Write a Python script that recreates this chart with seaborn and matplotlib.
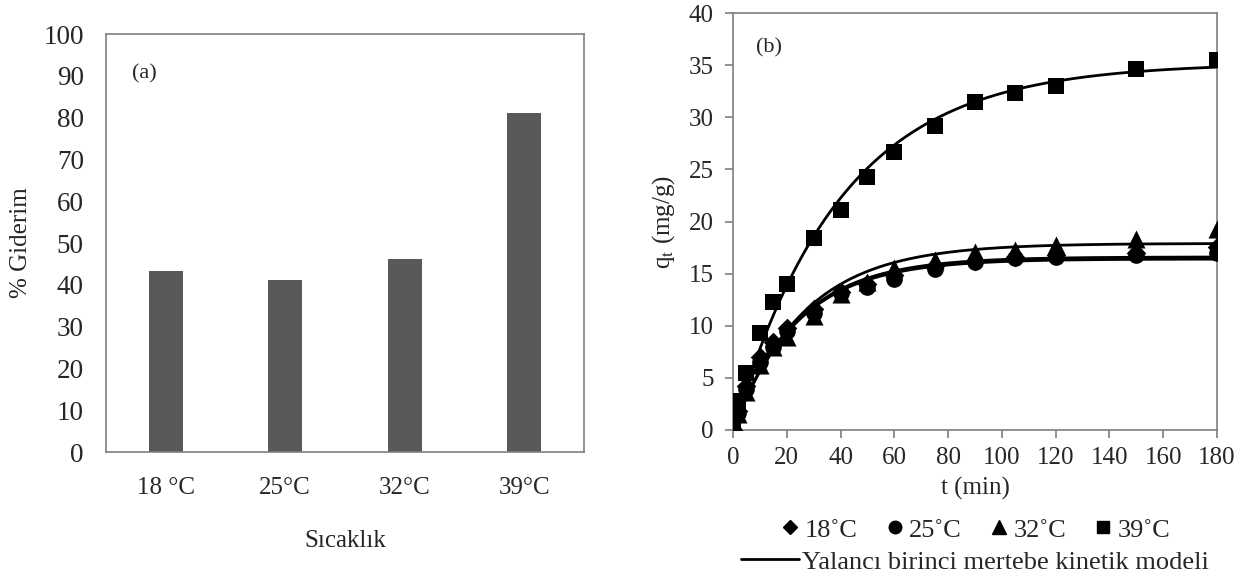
import numpy as np
import pandas as pd
import matplotlib
matplotlib.use("Agg")
import matplotlib.pyplot as plt
from matplotlib.lines import Line2D
import seaborn as sns

# ---------------- data ----------------
temps_a = ["18 °C", "25°C", "32°C", "39°C"]
removal = [43.2, 41.2, 46.1, 81.0]

t_min = [0, 2, 5, 10, 15, 20, 30, 40, 50, 60, 75, 90, 105, 120, 150, 180]
q18 = [0, 1.8, 4.2, 7.0, 8.4, 9.8, 11.6, 13.2, 14.0, 14.9, 15.7, 16.2, 16.6, 16.8, 17.0, 17.6]
q25 = [0, 1.6, 3.9, 6.5, 8.0, 9.5, 11.2, 13.1, 13.7, 14.5, 15.4, 16.1, 16.5, 16.6, 16.8, 17.0]
q32 = [0, 1.5, 3.6, 6.2, 8.0, 8.9, 10.9, 13.0, 14.2, 15.5, 16.3, 17.1, 17.3, 17.7, 18.3, 19.3]
q39 = [0, 2.8, 5.5, 9.3, 12.3, 14.0, 18.4, 21.1, 24.3, 26.7, 29.2, 31.5, 32.3, 33.0, 34.6, 35.5]

series_labels = ["18˚C", "25˚C", "32˚C", "39˚C"]
# pseudo-first-order model parameters (qe, k1)
model_qe = [16.6, 16.4, 17.9, 35.2]
model_k = [0.042, 0.042, 0.038, 0.025]
model_label = "Yalancı birinci mertebe kinetik modeli"

# ---------------- style ----------------
sns.set_theme(style="white")
plt.rcParams["font.family"] = ["Liberation Serif", "DejaVu Serif"]
plt.rcParams["mathtext.fontset"] = "stix"

fig = plt.figure(figsize=(12.5, 5.81), dpi=100)
axA = fig.add_axes([0.0848, 0.222, 0.3824, 0.7194])
axB = fig.add_axes([0.5864, 0.2599, 0.3872, 0.7177])

frame_col = "#7f7f7f"
FS = 18

# ---------------- panel (a) ----------------
dfa = pd.DataFrame({"temp": temps_a, "removal": removal})
sns.barplot(data=dfa, x="temp", y="removal", color="#595959", saturation=1,
            width=0.285, ax=axA, edgecolor="none")
axA.set_ylim(0, 100)
axA.set_xlim(-0.5, 3.5)
axA.set_yticks(np.arange(0, 101, 10))
axA.set_xlabel("Sıcaklık", fontsize=FS, labelpad=22)
axA.set_ylabel("% Giderim", fontsize=FS, labelpad=8)
axA.tick_params(axis="both", labelsize=FS, length=0)
axA.tick_params(axis="y", pad=16, labelsize=19.5)
axA.tick_params(axis="x", pad=18)
for s in axA.spines.values():
    s.set_color(frame_col)
    s.set_linewidth(1.2)
axA.text(0.055, 0.904, "(a)", transform=axA.transAxes, fontsize=16, va="center", ha="left")

# ---------------- panel (b) ----------------
markers = ["D", "o", "^", "s"]
msizes = [10, 12, 13, 12]
series = [q18, q25, q32, q39]
tt = np.linspace(0, 180, 361)
for lab, q, m, ms in zip(series_labels, series, markers, msizes):
    sns.scatterplot(x=t_min, y=q, marker=m, s=(ms) ** 2, color="black",
                    edgecolor="black", linewidth=0, ax=axB, zorder=3)
for qe, k in zip(model_qe, model_k):
    sns.lineplot(x=tt, y=qe * (1 - np.exp(-k * tt)), color="black", lw=2.0,
                 ax=axB, zorder=4)

axB.set_xlim(0, 180)
axB.set_ylim(0, 40)
axB.set_xticks(np.arange(0, 181, 20))
axB.set_yticks(np.arange(0, 41, 5))
axB.set_xlabel("t (min)", fontsize=FS, labelpad=6)
axB.set_ylabel(r"q$_\mathrm{t}$ (mg/g)", fontsize=FS, labelpad=8)
axB.tick_params(axis="both", labelsize=FS, direction="out", length=6, width=1.2,
                color=frame_col, bottom=True, left=True)
axB.tick_params(axis="x", pad=6)
axB.tick_params(axis="y", pad=8)
for s in axB.spines.values():
    s.set_color(frame_col)
    s.set_linewidth(1.2)
axB.text(0.048, 0.916, "(b)", transform=axB.transAxes, fontsize=16, va="center", ha="left")

# ---------------- legends ----------------
LFS = 19
handles = [Line2D([], [], marker=m, color="black", linestyle="none", markersize=ms * 0.75)
           for m, ms in zip(markers, msizes)]
leg1 = fig.legend(handles, series_labels, loc="center", bbox_to_anchor=(0.78, 0.088),
                  ncol=4, frameon=False, fontsize=LFS, handlelength=0.8,
                  handletextpad=0.15, columnspacing=1.0, borderaxespad=0)
lh = [Line2D([], [], color="black", lw=2.0)]
leg2 = fig.legend(lh, [model_label], loc="center", bbox_to_anchor=(0.78, 0.033),
                  frameon=False, fontsize=LFS, handlelength=2.2, handletextpad=0.1,
                  borderaxespad=0)

fig.savefig("out.png", dpi=100)
